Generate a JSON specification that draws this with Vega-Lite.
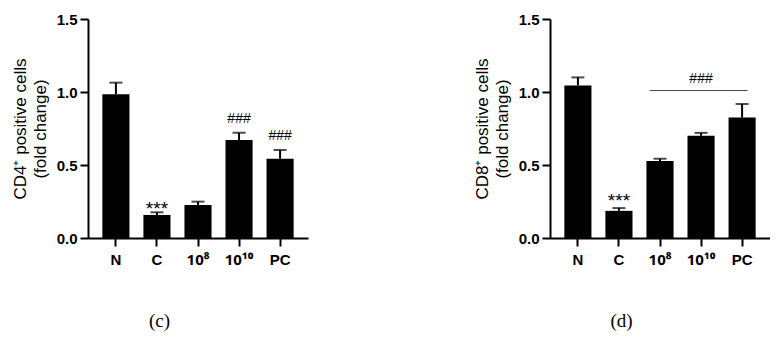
{
  "$schema": "https://vega.github.io/schema/vega-lite/v6.json",
  "background": "white",
  "padding": {"left": 11, "top": 12, "right": 0, "bottom": 0},
  "config": {
    "view": {"stroke": null},
    "font": "Liberation Sans",
    "axis": {
      "domainColor": "black", "domainWidth": 2,
      "tickColor": "black", "tickWidth": 2, "tickSize": 8,
      "labelColor": "black", "labelFont": "Liberation Sans", "labelFontSize": 15, "labelFontWeight": "bold",
      "titleColor": "black", "titleFont": "Liberation Sans", "titleFontSize": 17, "titleFontWeight": "normal",
      "grid": false
    },
    "title": {"font": "Liberation Serif", "fontSize": 19, "fontWeight": "normal", "color": "black"}
  },
  "datasets": {
    "cd4": [
      {"group": "N", "mean": 0.985, "upper": 1.064, "stars": "", "hash": ""},
      {"group": "C", "mean": 0.158, "upper": 0.176, "stars": "***", "hash": ""},
      {"group": "10⁸", "mean": 0.226, "upper": 0.249, "stars": "", "hash": ""},
      {"group": "10¹⁰", "mean": 0.671, "upper": 0.721, "stars": "", "hash": "###"},
      {"group": "PC", "mean": 0.543, "upper": 0.603, "stars": "", "hash": "###"}
    ],
    "cd8": [
      {"group": "N", "mean": 1.045, "upper": 1.1, "stars": "", "hash": ""},
      {"group": "C", "mean": 0.186, "upper": 0.205, "stars": "***", "hash": ""},
      {"group": "10⁸", "mean": 0.527, "upper": 0.543, "stars": "", "hash": ""},
      {"group": "10¹⁰", "mean": 0.7, "upper": 0.72, "stars": "", "hash": ""},
      {"group": "PC", "mean": 0.825, "upper": 0.918, "stars": "", "hash": ""}
    ],
    "cd8sig": [
      {"from": "10⁸", "to": "PC", "mid": "10¹⁰", "level": 1.01, "hash": "###"}
    ]
  },
  "hconcat": [
    {
      "width": 220, "height": 219,
      "title": {"text": "(c)", "orient": "bottom", "frame": "bounds", "anchor": "middle", "offset": 45},
      "data": {"name": "cd4"},
      "encoding": {
        "x": {"field": "group", "type": "nominal",
              "scale": {"domain": ["N", "C", "10⁸", "10¹⁰", "PC"], "paddingInner": 0.34, "paddingOuter": 0.35},
              "axis": {"title": null, "labelAngle": 0, "labelPadding": 6,
                       "labelFont": {"condition": {"test": "indexof(datum.label, '10') == 0", "value": "Noto Sans"}, "value": "Liberation Sans"}}}
      },
      "layer": [
        {"mark": {"type": "rule", "color": "black", "strokeWidth": 2},
         "encoding": {"y": {"field": "mean", "type": "quantitative"}, "y2": {"field": "upper"}}},
        {"mark": {"type": "tick", "color": "black", "thickness": 2, "size": 13},
         "encoding": {"y": {"field": "upper", "type": "quantitative"}}},
        {"mark": {"type": "bar", "color": "black"},
         "encoding": {"y": {"field": "mean", "type": "quantitative",
              "scale": {"domain": [0, 1.5], "nice": false},
              "axis": {"values": [0, 0.5, 1, 1.5], "format": ".1f", "labelPadding": 3, "titlePadding": 7,
                       "title": ["CD4⁺ positive cells", "(fold change)"], "titleLineHeight": 20}}}},
        {"mark": {"type": "text", "color": "black", "fontSize": 19, "baseline": "alphabetic", "dy": 3},
         "encoding": {"y": {"field": "upper", "type": "quantitative"}, "text": {"field": "stars"}}},
        {"mark": {"type": "text", "color": "black", "fontSize": 14, "baseline": "alphabetic", "dy": -10},
         "encoding": {"y": {"field": "upper", "type": "quantitative"}, "text": {"field": "hash"}}}
      ]
    },
    {
      "width": 220, "height": 219,
      "title": {"text": "(d)", "orient": "bottom", "frame": "bounds", "anchor": "middle", "offset": 45},
      "layer": [
        {"data": {"name": "cd8"},
         "mark": {"type": "bar", "color": "black"},
         "encoding": {
           "x": {"field": "group", "type": "nominal",
                 "scale": {"domain": ["N", "C", "10⁸", "10¹⁰", "PC"], "paddingInner": 0.34, "paddingOuter": 0.35},
                 "axis": {"title": null, "labelAngle": 0, "labelPadding": 6,
                          "labelFont": {"condition": {"test": "indexof(datum.label, '10') == 0", "value": "Noto Sans"}, "value": "Liberation Sans"}}},
           "y": {"field": "mean", "type": "quantitative",
              "scale": {"domain": [0, 1.5], "nice": false},
              "axis": {"values": [0, 0.5, 1, 1.5], "format": ".1f", "labelPadding": 3, "titlePadding": 7,
                       "title": ["CD8⁺ positive cells", "(fold change)"], "titleLineHeight": 20}}}},
        {"data": {"name": "cd8"},
         "mark": {"type": "rule", "color": "black", "strokeWidth": 2},
         "encoding": {"x": {"field": "group", "type": "nominal"},
                      "y": {"field": "mean", "type": "quantitative"}, "y2": {"field": "upper"}}},
        {"data": {"name": "cd8"},
         "mark": {"type": "tick", "color": "black", "thickness": 2, "size": 13},
         "encoding": {"x": {"field": "group", "type": "nominal"},
                      "y": {"field": "upper", "type": "quantitative"}}},
        {"data": {"name": "cd8"},
         "mark": {"type": "text", "color": "black", "fontSize": 19, "baseline": "alphabetic", "dy": -1},
         "encoding": {"x": {"field": "group", "type": "nominal"},
                      "y": {"field": "upper", "type": "quantitative"}, "text": {"field": "stars"}}},
        {"data": {"name": "cd8sig"},
         "mark": {"type": "rule", "color": "#444444", "strokeWidth": 1},
         "encoding": {"x": {"field": "from", "type": "nominal", "bandPosition": 0.12},
                      "x2": {"field": "to", "bandPosition": 0.7},
                      "y": {"field": "level", "type": "quantitative"}}},
        {"data": {"name": "cd8sig"},
         "mark": {"type": "text", "color": "black", "fontSize": 14, "baseline": "alphabetic", "dy": -8},
         "encoding": {"x": {"field": "mid", "type": "nominal"},
                      "y": {"field": "level", "type": "quantitative"}, "text": {"field": "hash"}}}
      ]
    }
  ],
  "spacing": 165
}
